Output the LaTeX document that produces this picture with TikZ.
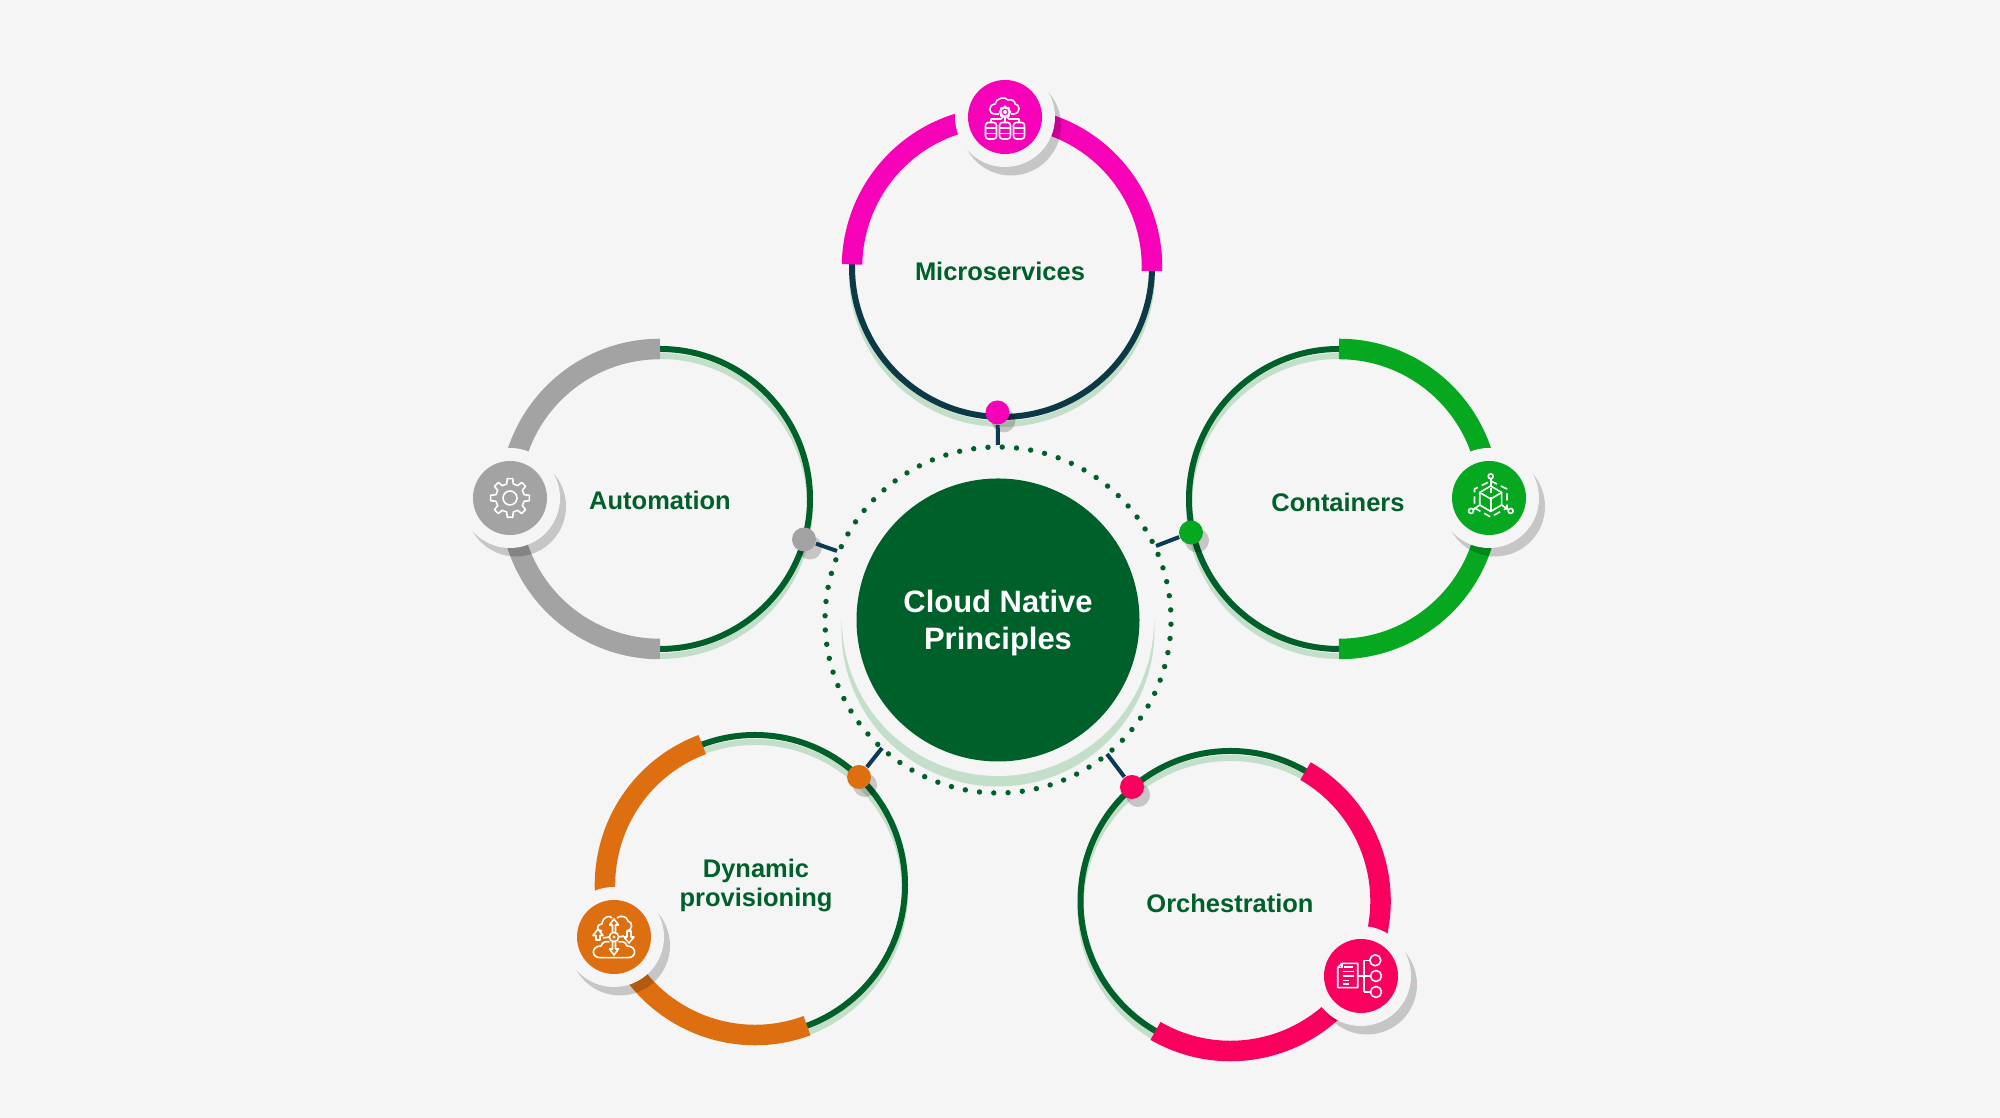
\documentclass[tikz,border=0pt]{standalone}
\usepackage{fontspec}
\setmainfont{Liberation Sans}
\usepackage{xcolor}

\definecolor{pagebg}{HTML}{F5F5F5}
\definecolor{hubgreen}{HTML}{00602A}
\definecolor{palegreen}{HTML}{C4DFC9}
\definecolor{tealline}{HTML}{0B3A46}
\definecolor{navyline}{HTML}{0B3A55}
\definecolor{magentaarc}{HTML}{F600B8}
\definecolor{greyarc}{HTML}{A3A3A3}
\definecolor{greenarc}{HTML}{05A81F}
\definecolor{orangearc}{HTML}{DE6F10}
\definecolor{pinkarc}{HTML}{F9005F}

\tikzset{
    ringshadow/.style={palegreen, line width=0.06cm},
    ringline/.style={hubgreen, line width=0.06cm},
    bigarc/.style={line width=0.205cm},
    halfmoon/.style={black, opacity=0.19},
    ringdot/.style={circle, fill=#1, minimum size=0.24cm, inner sep=0pt},
    badge/.style={circle, fill=#1, minimum size=0.74cm, inner sep=0pt},
    link/.style={navyline, line width=0.04cm},
    iconline/.style={white, line width=0.45pt, line join=round},
    ringlabel/.style={text=hubgreen, font=\fontsize{7.25pt}{8.5pt}\selectfont\bfseries, align=center},
    hublabel/.style={text=white, font=\fontsize{8.8pt}{10.4pt}\selectfont\bfseries, align=center},
}

% shadow, pale halo and coloured disc of an icon
\newcommand{\iconbadge}[3]{
    \fill[halfmoon] ([shift={(0.06,-0.085)}]#2) circle (0.5);
    \fill[pagebg] (#2) circle (0.5);
    \node[badge=#3] (#1) at (#2) {};
}
% the small disc sitting on a ring, with its shadow
\newcommand{\ringstud}[3]{
    \fill[halfmoon] ([shift={(0.06,-0.08)}]#2) circle (0.12);
    \node[ringdot=#3] (#1) at (#2) {};
}
\newcommand{\gearpath}[2]{
    \draw[iconline] (-13:#1) \foreach \t in {0,45,...,315}{ -- (\t-13:#1) -- (\t-8:#2) -- (\t+8:#2) -- (\t+13:#1)} -- cycle;
}

\begin{document}
\begin{tikzpicture}

    \fill[pagebg] (0,0) rectangle (20,11.18);
    \useasboundingbox (0,0) rectangle (20,11.18);

    % hub
    \coordinate (hubc) at (9.98,4.98);
    \fill[palegreen] (9.98,4.88) circle (1.565);
    \fill[pagebg] (hubc) circle (1.56);
    \foreach \a in {0,...,75}
        \fill[hubgreen] ([shift={(88.6+\a*4.7368:1.73)}]hubc) circle (0.027);
    \node[circle, fill=hubgreen, minimum size=2.83cm, inner sep=0pt] (hub) at (hubc) {};
    \node[hublabel] (hubtext) at (9.98,4.95) {Cloud Native\\Principles};

    % rings
    \coordinate (microc) at (10.02,8.51);
    \coordinate (autoc) at (6.60,6.19);
    \coordinate (contc) at (13.39,6.19);
    \coordinate (dync) at (7.55,2.33);
    \coordinate (orchc) at (12.305,2.17);

    \draw[ringshadow] ([yshift=-0.07cm]microc) circle (1.5);
    \draw[ringshadow] ([yshift=-0.07cm]autoc) circle (1.5);
    \draw[ringshadow] ([yshift=-0.07cm]contc) circle (1.5);
    \draw[ringshadow] ([yshift=-0.07cm]dync) circle (1.5);
    \draw[ringshadow] ([yshift=-0.07cm]orchc) circle (1.5);

    \draw[ringline, tealline] (microc) circle (1.5);
    \draw[ringline] (autoc) circle (1.5);
    \draw[ringline] (contc) circle (1.5);
    \draw[ringline] (dync) circle (1.5);
    \draw[ringline] (orchc) circle (1.5);

    \draw[bigarc, magentaarc] ([shift={(-1.5:1.5)}]microc) arc[start angle=-1.5, end angle=179, radius=1.5];
    \draw[bigarc, greyarc] ([shift={(90:1.5)}]autoc) arc[start angle=90, end angle=270, radius=1.5];
    \draw[bigarc, greenarc] ([shift={(-90:1.5)}]contc) arc[start angle=-90, end angle=90, radius=1.5];
    \draw[bigarc, orangearc] ([shift={(110.6:1.5)}]dync) arc[start angle=110.6, end angle=290.3, radius=1.5];
    \draw[bigarc, pinkarc] ([shift={(60:1.5)}]orchc) arc[start angle=60, end angle=-120, radius=1.5];

    \node[ringlabel] (microtext) at (10.00,8.47) {Microservices};
    \node[ringlabel] (autotext) at (6.60,6.175) {Automation};
    \node[ringlabel] (conttext) at (13.38,6.155) {Containers};
    \node[ringlabel] (dyntext) at (7.56,2.325) {Dynamic\\provisioning};
    \node[ringlabel] (orchtext) at (12.30,2.145) {Orchestration};

    % studs and their links to the dotted ring
    \ringstud{microstud}{9.975,7.055}{magentaarc}
    \ringstud{autostud}{8.04,5.785}{greyarc}
    \ringstud{contstud}{11.91,5.855}{greenarc}
    \ringstud{dynstud}{8.59,3.41}{orangearc}
    \ringstud{orchstud}{11.32,3.31}{pinkarc}

    \coordinate (microend) at (9.98,6.73);
    \coordinate (autoend) at (8.37,5.67);
    \coordinate (contend) at (11.56,5.72);
    \coordinate (dynend) at (8.82,3.70);
    \coordinate (orchend) at (11.07,3.64);

    \draw[link] (microstud) -- (microend);
    \draw[link] (autostud) -- (autoend);
    \draw[link] (contstud) -- (contend);
    \draw[link] (dynstud) -- (dynend);
    \draw[link] (orchstud) -- (orchend);

    % icons
    \iconbadge{microicon}{10.05,10.01}{magentaarc}
    \iconbadge{autoicon}{5.10,6.20}{greyarc}
    \iconbadge{conticon}{14.89,6.20}{greenarc}
    \iconbadge{dynicon}{6.14,1.81}{orangearc}
    \iconbadge{orchicon}{13.61,1.42}{pinkarc}

    % cloud over three databases
    \begin{scope}[shift={(microicon)}, x=0.01cm, y=0.01cm]
        \draw[iconline] (-6,3) -- (-10,3) .. controls (-17,3) and (-17,12) .. (-10,13)
            .. controls (-9,19) and (0,21) .. (3,17) .. controls (7,18) and (10,16) .. (10,13)
            .. controls (15,13) and (16,4) .. (9,3) -- (6,3);
        \begin{scope}[shift={(0,5)}]
            \gearpath{4}{5.5}
            \draw[iconline] (0,0) circle (1.6);
        \end{scope}
        \draw[iconline] (-14,-5.5) -- (-14,-2) -- (-4,-2) -- (-2,0);
        \draw[iconline] (14,-5.5) -- (14,-2) -- (4,-2) -- (2,0);
        \draw[iconline] (0,-0.5) -- (0,-5.5);
        \foreach \cx in {-14,0,14} {
            \draw[iconline, rounded corners=0.8pt] (\cx-5.5,-5.5) rectangle (\cx+5.5,-22);
            \draw[iconline] (\cx-5.5,-11) -- (\cx+5.5,-11);
            \draw[iconline] (\cx-5.5,-16.5) -- (\cx+5.5,-16.5);
        }
    \end{scope}

    % gear
    \begin{scope}[shift={(autoicon)}, x=0.01cm, y=0.01cm]
        \gearpath{14.5}{19.5}
        \draw[iconline] (0,0) circle (7);
    \end{scope}

    % cube with dashed frame
    \begin{scope}[shift={(conticon)}, x=0.01cm, y=0.01cm]
        \draw[iconline] (1.7,12) -- (12.7,5.5) -- (12.7,-7) -- (1.7,-13.5) -- (-9.3,-7) -- (-9.3,5.5) -- cycle;
        \draw[iconline] (-9.3,5.5) -- (1.7,-1) -- (12.7,5.5);
        \draw[iconline] (1.7,-1) -- (1.7,-13.5);
        \draw[iconline, dash pattern=on 1.5pt off 1pt] (1.7,10) -- (1.7,0);
        \draw[iconline, dash pattern=on 2pt off 1.2pt] (1.7,17) -- (18,9) -- (18,-10) -- (1.7,-19) -- (-14.5,-10) -- (-14.5,9) -- cycle;
        \draw[iconline, fill=greenarc] (1.7,21.7) circle (2.5);
        \draw[iconline] (1.7,19.2) -- (1.7,12);
        \draw[iconline, fill=greenarc] (-18,-13) circle (2.5);
        \draw[iconline] (-15.8,-11.8) -- (-9.3,-7);
        \draw[iconline, fill=greenarc] (21.7,-13) circle (2.5);
        \draw[iconline] (19.5,-11.8) -- (12.7,-7);
    \end{scope}

    % two clouds with arrows
    \begin{scope}[shift={(dynicon)}, x=0.01cm, y=0.01cm]
        \draw[iconline] (-4.5,-5) .. controls (-8,-4) and (-12,-5) .. (-13,-9)
            .. controls (-23,-9) and (-23,-20.7) .. (-14,-20.7) -- (14,-20.7)
            .. controls (23,-20.7) and (23,-9) .. (13,-9) .. controls (12,-5) and (8,-4) .. (4.5,-5);
        \draw[iconline] (-12,6) .. controls (-18,6) and (-18,13) .. (-12,13)
            .. controls (-11,21) and (-4,22) .. (-2,19);
        \draw[iconline] (3,19) .. controls (6,22) and (13,21) .. (14,16)
            .. controls (19,15) and (19,7) .. (13,6);
        \draw[iconline] (0,0) circle (4.7);
        \fill[white] (0,0) circle (1.6);
        \draw[iconline] (-1.5,4.5) -- (-1.5,12) -- (-4.5,12) -- (0,18) -- (4.5,12) -- (1.5,12) -- (1.5,4.5);
        \draw[iconline] (-1.5,-4.5) -- (-1.5,-12) -- (-4.5,-12) -- (0,-18) -- (4.5,-12) -- (1.5,-12) -- (1.5,-4.5);
        \draw[iconline] (-4.7,0) -- (-11,-1);
        \draw[iconline] (-18,-3) -- (-18,1.5) -- (-21,1.5) -- (-16,8) -- (-11,1.5) -- (-14,1.5) -- (-14,-3) -- cycle;
        \draw[iconline] (4.7,0) -- (10,1);
        \draw[iconline] (13,6) -- (13,0) -- (10,0) -- (15,-6) -- (20,0) -- (17,0) -- (17,6) -- cycle;
    \end{scope}

    % document fanning out to three circles
    \begin{scope}[shift={(orchicon)}, x=0.01cm, y=0.01cm]
        \draw[iconline] (-19,12.7) -- (-3.3,12.7) -- (-3.3,-11.7) -- (-23.3,-11.7) -- (-23.3,8.5) -- cycle;
        \draw[iconline] (-23.3,8.5) -- (-19,8.5) -- (-19,12.7);
        \draw[iconline] (-17,9) -- (-8,9);
        \draw[iconline] (-18.5,4.5) -- (-7,4.5);
        \draw[iconline] (-18.5,0) -- (-7,0);
        \draw[iconline] (-18.5,-4.5) -- (-12,-4.5);
        \draw[iconline] (-18.5,-8) -- (-12,-8);
        \draw[iconline] (-3.3,0) -- (9.5,0);
        \draw[iconline] (2.7,15.7) -- (2.7,-16);
        \draw[iconline] (2.7,15.7) -- (9,15.7);
        \draw[iconline] (2.7,-16) -- (9.5,-16);
        \draw[iconline] (14.3,15.7) circle (5.5);
        \draw[iconline] (15,0) circle (5.5);
        \draw[iconline] (15,-16) circle (5.5);
    \end{scope}

\end{tikzpicture}
\end{document}
